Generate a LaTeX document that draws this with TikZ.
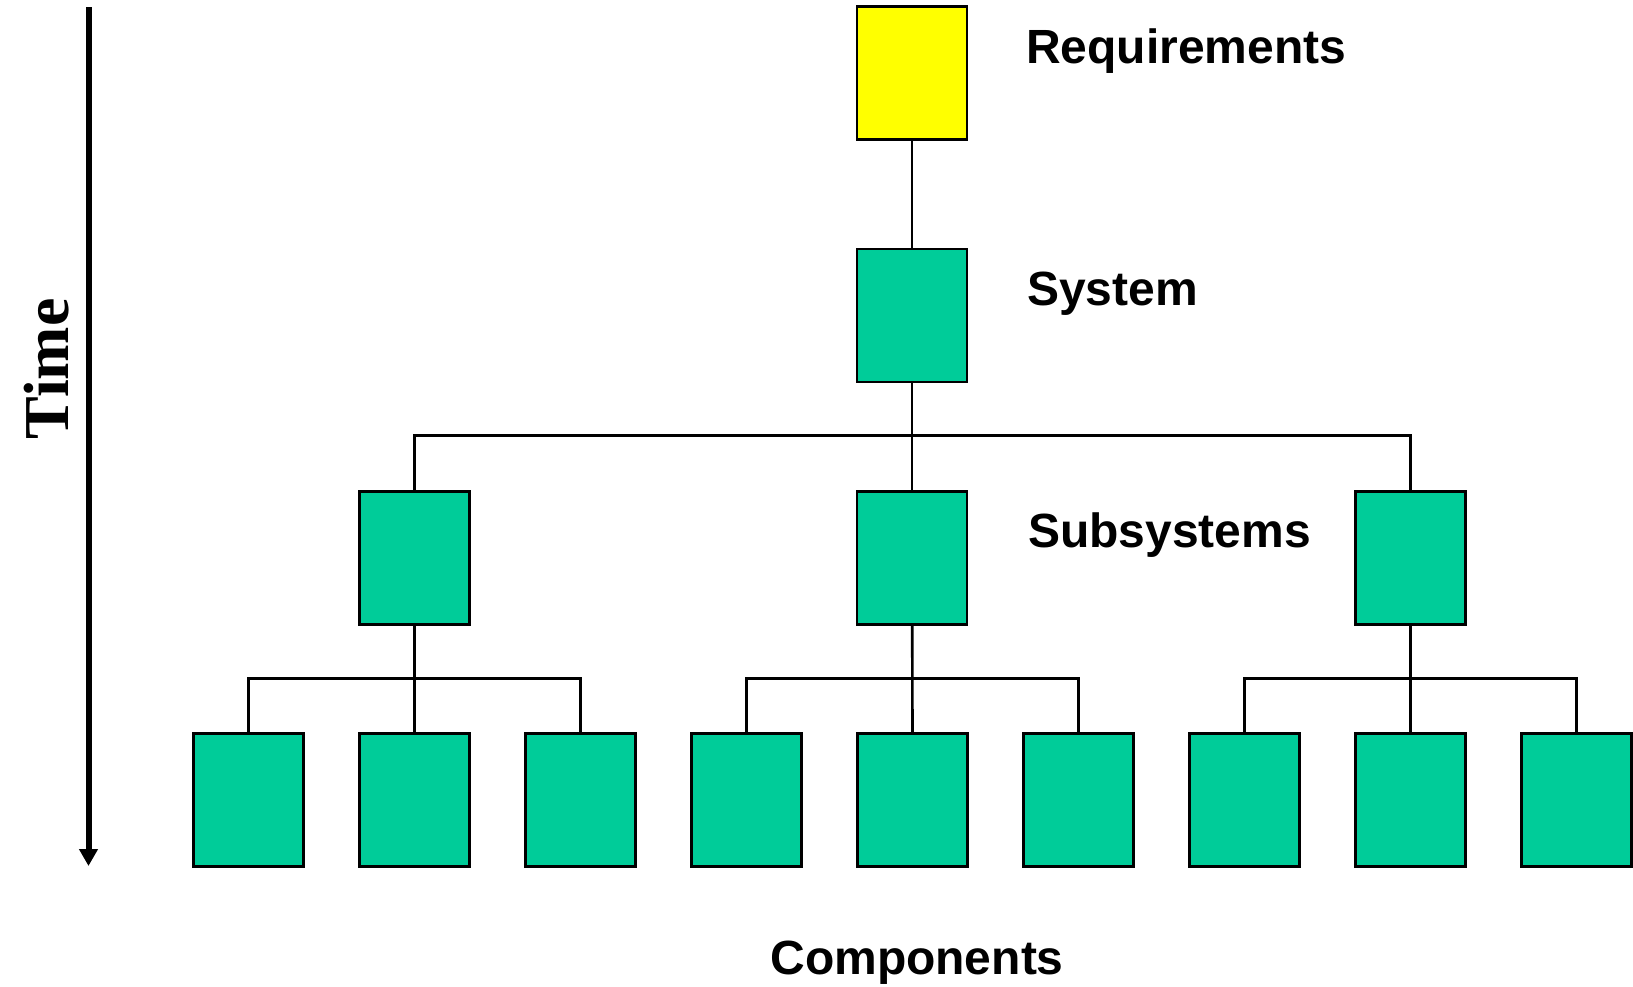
\documentclass[tikz,border=0pt]{standalone}
\usepackage{fontspec}
\setmainfont{Liberation Sans}
\newfontfamily\timefont{Liberation Serif}
\usepackage{xcolor}
\usepackage{tikz}
\usetikzlibrary{arrows.meta}
\definecolor{boxgreen}{RGB}{0,204,153}
\definecolor{boxyellow}{RGB}{255,255,0}

\begin{document}
\begin{tikzpicture}[x=1pt,y=-1pt,
    blk/.style={draw,line width=2.6pt,minimum width=110pt,minimum height=133pt,inner sep=0pt,fill=boxgreen},
    lbl/.style={anchor=base west,inner sep=0pt,font=\bfseries\fontsize{48}{56}\selectfont},
    tie/.style={line width=2.6pt}]
    \useasboundingbox (0,0) rectangle (1633,986);
    % boxes
    \node[blk,fill=boxyellow] (req) at (912,73) {};
    \node[blk] (sys) at (912,315.5) {};
    \foreach \i/\x in {1/414.7,2/912,3/1410.7}
        \node[blk] (sub\i) at (\x,558) {};
    \foreach \i in {1,...,9}
        \node[blk] (cmp\i) at (248.7+166*\i-166,800) {};
    % ties
    \draw[tie] (req) -- (sys);
    \draw[tie] (sys) -- (sub2);
    \draw[tie] (sub1.north) -- ++(0,-54.5) -| (sub3.north);
    \foreach \s/\l/\m/\r in {1/1/2/3,2/4/5/6,3/7/8/9}{
        \draw[tie] (sub\s) -- (cmp\m);
        \draw[tie] (cmp\l.north) -- ++(0,-54) -| (cmp\r.north);
    }
    % labels
    \node[lbl] (reqlbl) at (1026,63) {Requirements};
    \node[lbl] (syslbl) at (1027,305) {System};
    \node[lbl] (sublbl) at (1028,547) {Subsystems};
    \node[lbl,anchor=base] (cmplbl) at (917,974) {Components};
    % time axis
    \coordinate (ttop) at (88.5,7);
    \coordinate (tbot) at (88.5,866);
    \draw[line width=6pt,-{Triangle[width=18pt,length=17pt]}] (ttop) -- (tbot);
    \node[rotate=90,anchor=base,inner sep=0pt,font=\timefont\bfseries\fontsize{64}{70}\selectfont] (time) at (68.3,369) {Time};
\end{tikzpicture}
\end{document}
